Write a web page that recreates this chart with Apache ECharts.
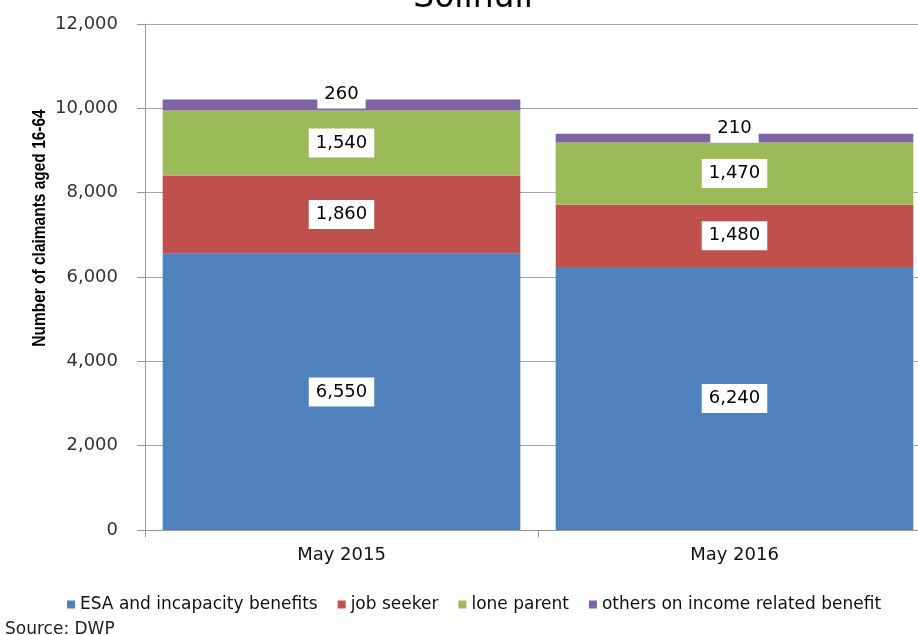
<!DOCTYPE html>
<html>
<head>
<meta charset="utf-8">
<title>Solihull</title>
<script src="https://cdn.jsdelivr.net/npm/echarts@6/dist/echarts.min.js"></script>
<style>
  html, body { margin: 0; padding: 0; background: #fff; overflow: hidden; width: 918px; height: 635px; }
  /* the plot runs past the right edge of the page, so the canvas is wider than the view */
  #chart { width: 940px; height: 635px; }
</style>
</head>
<body>
<div id="chart"></div>
<script>
// Claimant counts by benefit type, Solihull
const categories = ['May 2015', 'May 2016'];
const esaIncapacity = [6550, 6240];
const jobSeeker = [1860, 1480];
const loneParent = [1540, 1470];
const othersIncomeRelated = [260, 210];
const yTicks = { min: 0, max: 12000, interval: 2000 };

const seriesNames = [
  'ESA and incapacity benefits',
  'job seeker',
  'lone parent',
  'others on income related benefit'
];
const seriesColors = ['#4f81bd', '#c0504d', '#9bbb59', '#8064a2'];
const seriesData = [esaIncapacity, jobSeeker, loneParent, othersIncomeRelated];

const fmt = v => Number(v).toLocaleString('en-US');
const baseFont = 'DejaVu Sans, Verdana, sans-serif';

const valueLabel = {
  show: true,
  position: 'inside',
  formatter: p => fmt(p.value),
  color: '#000',
  fontFamily: baseFont,
  fontSize: 18,
  lineHeight: 22,
  backgroundColor: '#fff',
  padding: [4, 7, 3, 7]
};

const series = seriesData.map((data, i) => {
  const isTop = i === seriesData.length - 1;
  return {
    name: seriesNames[i],
    type: 'bar',
    stack: 'claimants',
    data: data,
    barCategoryGap: '9%',
    itemStyle: { color: seriesColors[i] },
    label: isTop
      ? Object.assign({}, valueLabel, { position: 'top', distance: -9 })
      : valueLabel,
    emphasis: { disabled: true }
  };
});

const chart = echarts.init(document.getElementById('chart'), null, { renderer: 'canvas' });
chart.setOption({
  animation: false,
  backgroundColor: '#fff',
  grid: { left: 145, top: 24, width: 786, bottom: 105, containLabel: false },
  legend: {
    data: seriesNames,
    left: 62,
    top: 591,
    icon: 'rect',
    itemWidth: 8,
    itemHeight: 8,
    itemGap: 20,
    textStyle: { fontFamily: baseFont, fontSize: 17, color: '#111' },
    selectedMode: false
  },
  xAxis: {
    type: 'category',
    data: categories,
    axisLine: { lineStyle: { color: '#999', width: 1 } },
    axisTick: { show: true, length: 7, alignWithLabel: false, lineStyle: { color: '#999' } },
    axisLabel: { color: '#111', fontFamily: baseFont, fontSize: 18, margin: 16 }
  },
  yAxis: {
    type: 'value',
    min: yTicks.min,
    max: yTicks.max,
    interval: yTicks.interval,
    axisLine: { show: true, lineStyle: { color: '#999', width: 1 } },
    axisTick: { show: true, length: 8, lineStyle: { color: '#999' } },
    splitLine: { show: true, lineStyle: { color: '#a6a6a6', width: 1 } },
    axisLabel: { color: '#333', fontFamily: baseFont, fontSize: 18, margin: 27, formatter: v => fmt(v) }
  },
  graphic: [
    {
      type: 'text',
      x: 473,
      y: 15,
      style: {
        text: 'Solihull',
        fontFamily: baseFont,
        fontSize: 33,
        fill: '#000',
        align: 'center',
        verticalAlign: 'bottom'
      }
    },
    {
      type: 'text',
      x: 40,
      y: 228,
      rotation: Math.PI / 2,
      scaleX: 0.86,
      style: {
        text: 'Number of claimants aged 16-64',
        fontFamily: "'Liberation Sans', Arial, sans-serif",
        fontWeight: 'bold',
        fontSize: 18,
        fill: '#000',
        align: 'center',
        verticalAlign: 'middle'
      }
    },
    {
      type: 'text',
      x: 5,
      y: 630,
      style: {
        text: 'Source: DWP',
        fontFamily: baseFont,
        fontSize: 17,
        fill: '#222',
        align: 'left',
        verticalAlign: 'middle'
      }
    }
  ],
  series: series
});
</script>
</body>
</html>
